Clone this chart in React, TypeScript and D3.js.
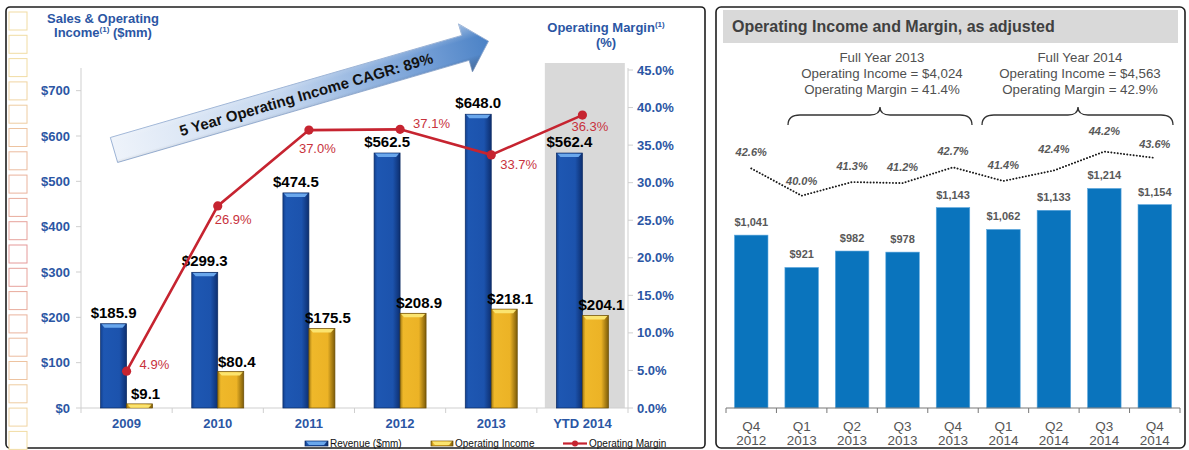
import React from 'react';
import * as d3 from 'd3';

// ---------- Left chart data ----------
const years = ['2009', '2010', '2011', '2012', '2013', 'YTD 2014'];
const revenue = [185.9, 299.3, 474.5, 562.5, 648.0, 562.4];
const opIncome = [9.1, 80.4, 175.5, 208.9, 218.1, 204.1];
const opMarginPlotted = [4.9, 26.9, 37.0, 37.1, 33.7, 39.0];
const opMarginLabels = ['4.9%', '26.9%', '37.0%', '37.1%', '33.7%', '36.3%'];
const leftTicks = [0, 100, 200, 300, 400, 500, 600, 700];
const rightTicks = [0, 5, 10, 15, 20, 25, 30, 35, 40, 45];

// ---------- Right chart data ----------
const quarters = ['Q4', 'Q1', 'Q2', 'Q3', 'Q4', 'Q1', 'Q2', 'Q3', 'Q4'];
const quarterYears = ['2012', '2013', '2013', '2013', '2013', '2014', '2014', '2014', '2014'];
const qIncome = [1041, 921, 982, 978, 1143, 1062, 1133, 1214, 1154];
const qMargin = [42.6, 40.0, 41.3, 41.2, 42.7, 41.4, 42.4, 44.2, 43.6];
const fyNotes = [
  ['Full Year 2013', 'Operating Income = $4,024', 'Operating Margin = 41.4%'],
  ['Full Year 2014', 'Operating Income = $4,563', 'Operating Margin = 42.9%'],
];

// label placement offsets (layout only)
const marginLabelOffsets: [number, number][] = [
  [13, -2], [-3, 18], [-10, 23], [13, -1], [9, 14], [-11, 16],
];
const qMarginLabelDy = [-12, -11, -12, -12, -12, -12, -18, -17, -10];

const FONT = '"Liberation Sans", Arial, Helvetica, sans-serif';
const BLUE_TXT = '#2b56a4';

function BevelBar({ x, y, w, h, kind }: { x: number; y: number; w: number; h: number; kind: 'blue' | 'gold' }) {
  const fill = kind === 'blue' ? 'url(#gBlue)' : 'url(#gGold)';
  const cap = kind === 'blue' ? '#6aa7ec' : '#fbe46f';
  const edge = kind === 'blue' ? '#0b2a63' : '#6b4e06';
  const ch = Math.min(4, h);
  return (
    <g>
      <rect x={x} y={y} width={w} height={h} fill={fill} stroke={edge} strokeWidth={0.7} />
      <path d={`M${x + 1},${y + 0.6} L${x + w - 1},${y + 0.6} L${x + w - 4},${y + ch} L${x + 4},${y + ch} Z`} fill={cap} />
    </g>
  );
}

export default function App() {
  const W = 1189;
  const H = 450;

  // left chart scales
  const x = d3.scaleBand<string>().domain(years).range([81, 628]);
  const yL = d3.scaleLinear().domain([0, 750]).range([408, 68]);
  const yR = d3.scaleLinear().domain([0, 45]).range([408, 70]);
  const bw = 26;
  const cx = (d: string) => (x(d) as number) + x.bandwidth() / 2;
  const marginLine = d3.line<number>().x((_, i) => cx(years[i])).y((d) => yR(d));

  // right chart scales
  const idx = qIncome.map((_, i) => String(i));
  const xq = d3.scaleBand<string>().domain(idx).range([726, 1180]).paddingInner(0.336).paddingOuter(0.168);
  const yq = d3.scaleLinear().domain([400, 1400]).range([408, 138.3]);
  const ym = d3.scaleLinear().domain([40, 45]).range([195.7, 143.2]);
  const qcx = (i: number) => (xq(String(i)) as number) + xq.bandwidth() / 2;
  const dotLine = d3.line<number>().x((_, i) => qcx(i)).y((d) => ym(d));

  const ytdX = x('YTD 2014') as number;

  const squares = d3.range(19);
  const sqColor = (i: number) => {
    const t = Math.max(0, 1 - Math.abs(i - 10) / 8);
    return d3.interpolateRgb('#f1dca3', '#e59a9a')(t);
  };

  const braces = [
    { x1: 788, xm: 880, x2: 972 },
    { x1: 982, xm: 1078, x2: 1173 },
  ];
  const bracePath = (b: { x1: number; xm: number; x2: number }) =>
    `M${b.x1},125 Q${b.x1},115 ${b.x1 + 12},115 L${b.xm - 10},115 Q${b.xm},115 ${b.xm},107 Q${b.xm},115 ${b.xm + 10},115 L${b.x2 - 12},115 Q${b.x2},115 ${b.x2},125`;

  const arrowL = 390;
  const arrowHL = 24;
  const arrowD = `M0,-13 L${arrowL - arrowHL},-13 L${arrowL - arrowHL},-25 L${arrowL},0 L${arrowL - arrowHL},25 L${arrowL - arrowHL},13 L0,13 Z`;

  return (
    <svg width={W} height={H} style={{ position: 'absolute', left: 0, top: 0, fontFamily: FONT }}>
      <defs>
        <linearGradient id="gBlue" x1="0" x2="1" y1="0" y2="0">
          <stop offset="0" stopColor="#12408f" />
          <stop offset="0.12" stopColor="#1e57b2" />
          <stop offset="0.72" stopColor="#1c53ad" />
          <stop offset="1" stopColor="#0d2f70" />
        </linearGradient>
        <linearGradient id="gGold" x1="0" x2="1" y1="0" y2="0">
          <stop offset="0" stopColor="#a27a12" />
          <stop offset="0.12" stopColor="#efb82a" />
          <stop offset="0.72" stopColor="#ecb326" />
          <stop offset="1" stopColor="#7d5c08" />
        </linearGradient>
        <linearGradient id="gArrow" x1="0" x2="1" y1="0" y2="0">
          <stop offset="0" stopColor="#eef3fa" />
          <stop offset="0.45" stopColor="#c5d7ef" />
          <stop offset="0.85" stopColor="#6f9bd4" />
          <stop offset="1" stopColor="#4b82c6" />
        </linearGradient>
        <linearGradient id="gArrowShade" x1="0" x2="0" y1="0" y2="1">
          <stop offset="0" stopColor="#ffffff" stopOpacity="0.45" />
          <stop offset="0.35" stopColor="#ffffff" stopOpacity="0" />
          <stop offset="0.7" stopColor="#000000" stopOpacity="0" />
          <stop offset="1" stopColor="#3a4a60" stopOpacity="0.35" />
        </linearGradient>
      </defs>
      <rect x={0} y={0} width={W} height={H} fill="#ffffff" />

      {/* ================= LEFT PANEL ================= */}
      <rect x={6} y={7} width={699} height={441} rx={4} fill="#ffffff" stroke="#1e1e1e" strokeWidth={1.6} />
      {squares.map((i) => (
        <rect key={i} x={9} y={12 + i * 23.3} width={18} height={18} fill="#ffffff" stroke={sqColor(i)} strokeWidth={1} />
      ))}

      {/* shaded YTD column */}
      <rect x={ytdX + 8} y={63} width={80} height={408 - 63} fill="#d9d9d9" />

      {/* axes */}
      <line x1={81} x2={81} y1={68} y2={408} stroke="#cfcfcf" strokeWidth={1} />
      <line x1={628} x2={628} y1={68} y2={408} stroke="#cfcfcf" strokeWidth={1} />
      <line x1={81} x2={628} y1={408} y2={408} stroke="#cfcfcf" strokeWidth={1} />
      {leftTicks.map((t) => (
        <g key={t}>
          <line x1={76} x2={81} y1={yL(t)} y2={yL(t)} stroke="#cfcfcf" />
          <text x={70} y={yL(t) + 4.5} textAnchor="end" fontSize={13} fontWeight="bold" fill={BLUE_TXT}>
            {'$' + t}
          </text>
        </g>
      ))}
      {rightTicks.map((t) => (
        <g key={t}>
          <line x1={628} x2={633} y1={yR(t)} y2={yR(t)} stroke="#cfcfcf" />
          <text x={637} y={yR(t) + 4.5} textAnchor="start" fontSize={13} fontWeight="bold" fill={BLUE_TXT}>
            {t.toFixed(1) + '%'}
          </text>
        </g>
      ))}
      {years.map((d, i) => (
        <g key={d}>
          <line x1={x(d) as number} x2={x(d) as number} y1={408} y2={413} stroke="#cfcfcf" />
          {i === years.length - 1 && <line x1={628} x2={628} y1={408} y2={413} stroke="#cfcfcf" />}
          <text x={cx(d)} y={428} textAnchor="middle" fontSize={13} fontWeight="bold" fill={BLUE_TXT}>
            {d}
          </text>
        </g>
      ))}

      {/* titles */}
      <text x={103} y={23} textAnchor="middle" fontSize={13} fontWeight="bold" fill={BLUE_TXT}>
        Sales &amp; Operating
      </text>
      <text x={103} y={37} textAnchor="middle" fontSize={13} fontWeight="bold" fill={BLUE_TXT}>
        Income<tspan fontSize={8} dy={-5}>(1)</tspan>
        <tspan dy={5}> ($mm)</tspan>
      </text>
      <text x={606} y={32} textAnchor="middle" fontSize={13} fontWeight="bold" fill={BLUE_TXT}>
        Operating Margin<tspan fontSize={8} dy={-5}>(1)</tspan>
      </text>
      <text x={606} y={47} textAnchor="middle" fontSize={13} fontWeight="bold" fill={BLUE_TXT}>
        (%)
      </text>

      {/* bars */}
      {years.map((d, i) => {
        const c = cx(d);
        return (
          <g key={d}>
            <BevelBar x={c - bw} y={yL(revenue[i])} w={bw} h={408 - yL(revenue[i])} kind="blue" />
            <BevelBar x={c} y={yL(opIncome[i])} w={bw} h={408 - yL(opIncome[i])} kind="gold" />
          </g>
        );
      })}

      {/* arrow */}
      <g transform="translate(114,150) rotate(-16.2)">
        <path d={arrowD} fill="url(#gArrow)" stroke="#8ea9cf" strokeWidth={0.8} />
        <path d={arrowD} fill="url(#gArrowShade)" />
        <text x={200} y={5.5} textAnchor="middle" fontSize={15} fontWeight="bold" fill="#111">
          5 Year Operating Income CAGR: 89%
        </text>
      </g>

      {/* value labels */}
      {years.map((d, i) => (
        <g key={d}>
          <text x={cx(d) - bw / 2} y={yL(revenue[i]) - 6} textAnchor="middle" fontSize={15} fontWeight="bold" fill="#000">
            {'$' + revenue[i].toFixed(1)}
          </text>
          <text x={cx(d) + bw / 2 + 6} y={yL(opIncome[i]) - 5} textAnchor="middle" fontSize={15} fontWeight="bold" fill="#000">
            {'$' + opIncome[i].toFixed(1)}
          </text>
        </g>
      ))}

      {/* margin line */}
      <path d={marginLine(opMarginPlotted) || ''} fill="none" stroke="#c62430" strokeWidth={2.6} />
      {opMarginPlotted.map((m, i) => (
        <g key={i}>
          <circle cx={cx(years[i])} cy={yR(m)} r={4.6} fill="#c62430" />
          <text
            x={cx(years[i]) + marginLabelOffsets[i][0]}
            y={yR(m) + marginLabelOffsets[i][1]}
            fontSize={13}
            fill="#c8323c"
          >
            {opMarginLabels[i]}
          </text>
        </g>
      ))}

      {/* legend */}
      <BevelBar x={305} y={441} w={23} h={5} kind="blue" />
      <text x={330} y={446.5} fontSize={10} fill="#111">Revenue ($mm)</text>
      <BevelBar x={431} y={441} w={22} h={5} kind="gold" />
      <text x={455} y={446.5} fontSize={10} fill="#111">Operating Income</text>
      <line x1={563} x2={587} y1={443.5} y2={443.5} stroke="#c62430" strokeWidth={2.2} />
      <circle cx={575} cy={443.5} r={3} fill="#c62430" />
      <text x={589} y={446.5} fontSize={10} fill="#111">Operating Margin</text>

      {/* ================= RIGHT PANEL ================= */}
      <rect x={716} y={7} width={469} height={441} rx={5} fill="#ffffff" stroke="#1e1e1e" strokeWidth={1.6} />
      <rect x={723} y={10} width={455} height={33} fill="#d9d9d9" />
      <text x={732} y={32} fontSize={16} fontWeight="bold" fill="#404040">
        Operating Income and Margin, as adjusted
      </text>

      {fyNotes.map((lines, k) => (
        <g key={k}>
          {lines.map((s, j) => (
            <text key={j} x={braces[k].xm + 2} y={62 + j * 16} textAnchor="middle" fontSize={13.3} fill="#505050">
              {s}
            </text>
          ))}
          <path d={bracePath(braces[k])} fill="none" stroke="#333" strokeWidth={1.3} />
        </g>
      ))}

      {/* bars */}
      {qIncome.map((v, i) => (
        <g key={i}>
          <rect
            x={xq(String(i)) as number}
            y={yq(v)}
            width={xq.bandwidth()}
            height={408 - yq(v)}
            fill="#0a74bd"
            stroke="#5aa6dc"
            strokeWidth={0.6}
          />
          <text x={qcx(i)} y={yq(v) - 9} textAnchor="middle" fontSize={11} fontWeight="bold" fill="#595959">
            {'$' + d3.format(',')(v)}
          </text>
        </g>
      ))}

      {/* dotted margin line */}
      <path
        d={dotLine(qMargin) || ''}
        fill="none"
        stroke="#1a1a1a"
        strokeWidth={1.9}
        strokeDasharray="0.1 3.1"
        strokeLinecap="round"
      />
      {qMargin.map((m, i) => (
        <text
          key={i}
          x={qcx(i)}
          y={ym(m) + qMarginLabelDy[i]}
          textAnchor="middle"
          fontSize={11}
          fontWeight="bold"
          fontStyle="italic"
          fill="#595959"
        >
          {m.toFixed(1) + '%'}
        </text>
      ))}

      {/* x axis */}
      <line x1={726} x2={1180} y1={408} y2={408} stroke="#777" strokeWidth={1} />
      {d3.range(10).map((k) => (
        <line key={k} x1={726 + k * xq.step()} x2={726 + k * xq.step()} y1={408} y2={413} stroke="#777" />
      ))}
      {quarters.map((q, i) => (
        <g key={i}>
          <text x={qcx(i)} y={431} textAnchor="middle" fontSize={13.5} fill="#555">
            {q}
          </text>
          <text x={qcx(i)} y={445} textAnchor="middle" fontSize={13.5} fill="#555">
            {quarterYears[i]}
          </text>
        </g>
      ))}
    </svg>
  );
}
